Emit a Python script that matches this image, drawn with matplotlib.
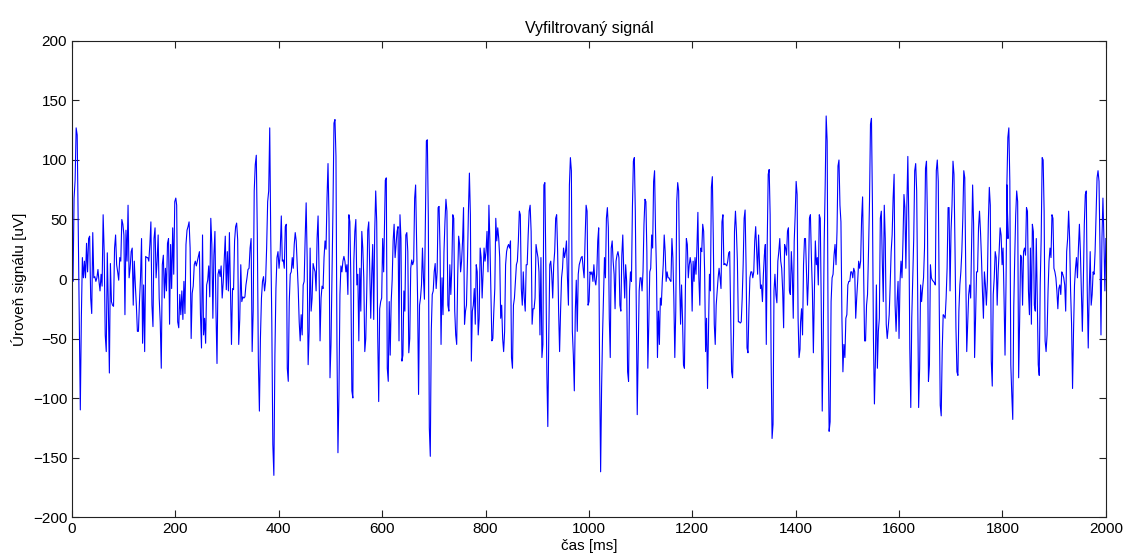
import numpy as np
import matplotlib.pyplot as plt

# vyfiltrovany EEG signal, 10 useku po cca 200 ms (hodnoty v uV)
usek0 = [0, -2, 68, 83, 127, 121, 46, -31, -110, -33, 18, 1, 15, 1, 30, 6, 34, 36, -16, -29,
         39, 1, 2, -2, 1, 8, -2, -10, 4, -6, 54, 23, -47, -61, 22, -22, -79, 13, -19, -22,
         -23, 26, 37, 12, 6, -1, 18, 15, 50, 46, 37, -30, 41, 15, 62, 1, 9, 23, 26, -22,
         15, -5, -22, -44, -44, -19, 1, 34, -54, -5, -61, 19, 18, 18, 15, 29, 48, -22, -40, 34,
         43, 1, 15, 37, -16, -36, -75, 12, 20, -16, 9, -10, 30, 34, -38, 29, -8, 43, 4, 65, 68]
usek1 = [62, -36, -41, -13, -30, -10, -34, -2, -29, 29, 41, 44, 48, 26, -50, -12, -6, 12, 15, 11,
         15, 19, 23, -30, -58, 37, -47, -33, -54, -5, -1, 11, -15, 51, 29, -33, 20, 40, -27, -71,
         4, 8, 2, 11, -16, -3, 16, 36, -9, 23, -10, 39, -6, -55, -8, -9, 32, 44, 47, 33,
         -55, -34, 12, -19, -15, -16, -15, -5, 1, 8, 9, 26, 34, -61, -27, 74, 96, 104, 37, -69,
         -111, -50, -16, -2, 2, -10, -2, 26, 65, 74, 127, 34, -36, -139, -165, -64, -8, 18, 23, 9, 20]
usek2 = [53, 15, 16, 9, 44, 46, -75, -86, -19, 4, 6, 18, 9, 29, 39, 32, 12, -8, -36, -52,
         -30, -47, -5, -2, 34, 64, 18, -72, -44, 26, -27, -16, 13, 9, 6, -10, 34, 53, 6, -52,
         -16, -6, -8, 18, 32, 25, 68, 97, 51, -83, -55, 1, 60, 131, 134, 103, -55, -146, -97, -13,
         11, 6, 15, 19, 15, 6, 12, -13, 54, 48, -2, -94, -100, 15, 40, 50, -5, 4, -52, 9,
         -27, 40, 26, 1, -61, -50, -10, 41, 48, 9, -33, 4, 29, -34, 40, 74, 48, -47, -103, -25,
         -19, -16, 34, 6]
usek3 = [83, 85, -75, -86, -19, -64, -19, -1, 32, 46, 18, 29, 40, 44, -52, 54, 34, -69, -64, -10,
         -27, 37, 39, 23, -62, -50, 9, 16, 12, 15, 68, 79, 29, -16, -97, -22, -16, -5, 26, 1,
         -17, 51, 116, 117, 51, -125, -149, -44, -13, -10, 6, 13, -8, 6, 60, 61, 23, -55, 1, -30,
         23, 48, 67, 57, -22, -27, 12, -13, 9, 54, 51, -27, -47, -55, 1, 36, 29, 6, 15, 32,
         60, -38, -27, -22, 15, 57, 89, 54, -69, -27, -22, -8, -38, 12, 6, -47, -33, 26, 18, -16,
         6, 26, 15, 23, 40, 6]
usek4 = [62, 32, -10, -52, -50, -27, -8, 51, 32, 43, 34, 18, -33, -22, -50, -61, -44, 12, 23, 27,
         29, 26, 32, -66, -75, -22, -16, -2, 12, 15, 32, 57, 54, -8, -22, 6, -16, -27, 12, 12,
         37, 57, 62, 40, -38, -25, -25, -16, 29, 23, 18, 6, -47, 18, -66, -55, 79, 81, 12, -78,
         -124, -47, 12, 15, 4, -16, 12, 23, 51, 54, 23, -27, -61, -27, 1, 9, 26, 18, 23, 32,
         1, -22, 79, 102, 91, -44, -64, -94, -27, -1, -44, 4, 12, 15, 18, 19, 9, 1, 34, 62,
         57, -22, -19, 6, 4, 6]
usek5 = [-2, 12, -1, -5, 4, 32, 43, -83, -162, -92, -47, -13, 18, 1, 51, 60, 43, -33, -66, 26,
         32, 15, 4, -25, 15, 20, 23, 18, -22, -27, 20, 37, 6, -16, 12, -2, -78, -86, -10, 6,
         -2, 60, 99, 102, 57, -22, -114, -61, -10, 1, 1, -10, 6, 46, 67, 65, 23, -75, -38, 6,
         9, 37, 26, 82, 91, 40, 6, -66, -27, -55, -16, -22, -2, 12, 37, 23, -2, 6, 1, 1,
         -1, -2, 34, 18, -16, -66, -27, 65, 81, 74, -2, -38, -5, -33, -72, -75, -8, 34, 29, 1,
         12, 18, 12, -27, 15, -2, 18, 4]
usek6 = [26, 56, 1, -22, 26, 23, 46, 40, 6, -61, -33, -92, -44, 4, -10, 77, 86, 34, -38, -55,
         -22, -10, 1, 9, 1, -8, 48, 54, 12, 13, 12, 11, 15, 22, 23, -25, -78, -83, -47, 40,
         57, 40, 15, -36, -36, -37, -36, -16, 12, 51, 58, 12, -58, -62, -25, 1, 6, 6, 1, 6,
         32, 44, 23, 4, 37, 12, -8, -5, -19, 4, 20, 29, -55, 32, 88, 92, 54, -66, -134, -122,
         -10, 4, -13, -20, 15, 23, 34, 15, 9, -10, -41, 29, 26, 20, 40, 43, -10, -13, 23, 4,
         -33, 32, 54, 82, 71, -33, -66, -59]
usek7 = [-36, -25, -47, 12, 34, 34, 6, -22, 1, 51, 54, 18, -10, -62, -12, 32, 12, 18, -5, 54,
         51, -22, -111, -50, 32, 79, 137, 116, -50, -128, -120, -19, 1, 4, 20, 29, 12, 40, 95, 100,
         62, 48, -33, -78, -55, -66, -33, -30, -5, -2, -2, 6, 6, 1, 9, 6, -33, -16, -2, 15,
         9, 15, 51, 69, 6, -52, -52, -22, -13, 23, 65, 130, 135, 62, -50, -105, -69, -5, -75, -44,
         -33, 51, 57, 15, -19, 62, 34, -38, -50, -41, -30, -5, 23, 37, 68, 88, -22, -44, -19, -2,
         -50, -2, 15, 1, 32, 71]
usek8 = [60, 9, 62, 103, 48, -58, -108, -33, 1, 34, 91, 97, 74, -10, -108, -75, -5, -19, -8, 1,
         26, 93, 99, 48, -86, -72, 12, 1, -1, -2, -3, -5, 91, 100, 82, -22, -106, -115, -61, -30,
         -31, -33, -16, 9, 60, 60, -10, 40, 62, 99, 88, 29, -41, -78, -81, -27, -5, 6, 23, 51,
         91, 85, 6, -61, -36, -13, -5, -16, 29, 79, 46, -66, -33, 6, 6, 43, 57, 40, 18, -10,
         -33, 6, -5, -22, -2, 48, 77, 62, -69, -90, -13, 1, 23, 18, -22, 6, 23, 43, 37, 12,
         26, -16, -64, -5, 79, 34]
usek9 = [79, 119, 127, 82, -72, -97, -118, -24, 18, 54, 74, 65, -83, -36, 20, 18, -22, 23, 26, 20,
         60, 57, -10, -30, 26, -38, 46, 40, -22, -27, 34, -16, -72, -81, -5, 34, 102, 100, 57, -52,
         -61, -47, -10, 15, 26, 18, 54, 51, 9, 6, 1, -10, -25, -8, -5, -13, 6, 4, 1, -5,
         -27, 23, 34, 57, 34, -10, -38, -92, -44, -5, 9, 18, 1, 26, 46, 23, -10, -44, -2, 46,
         71, 74, -10, -58, -10, 23, -22, -13, 6, 4, 23, 54, 85, 91, 82, 26, -47, 34, 68, 34,
         -10, 34]

useky = [usek0, usek1, usek2, usek3, usek4, usek5, usek6, usek7, usek8, usek9]
# zacatek a konec kazdeho useku [ms]
zacatky = [0.0, 202.5, 404.9, 606.1, 806.5, 1007.7, 1208.9, 1409.4, 1611.2, 1808.5]
konce = [200.8, 402.5, 602.9, 804.7, 1005.9, 1207.1, 1408.3, 1609.4, 1810.6, 2000.0]

cas = []
signal = []
for u, t0, t1 in zip(useky, zacatky, konce):
    cas.extend(np.linspace(t0, t1, len(u)))
    signal.extend(u)

plt.rcParams['font.family'] = ['Liberation Sans', 'DejaVu Sans']

fig = plt.figure(figsize=(11.25, 5.57), dpi=100)
ax = fig.add_axes([0.064, 0.0718, 0.919, 0.8546])
ax.plot(cas, signal, color=(0, 0, 1), linewidth=0.8)

ax.set_xlim(0, 2000)
ax.set_ylim(-200, 200)
ax.set_xticks(np.arange(0, 2001, 200))
ax.set_yticks(np.arange(-200, 201, 50))
ax.tick_params(direction='in', top=True, right=True, length=5, labelsize=11,
               colors='#222222', labelcolor='black')
for s in ax.spines.values():
    s.set_color('#222222')
    s.set_linewidth(0.8)

ax.set_title('Vyfiltrovaný signál', fontsize=11.5, pad=6)
ax.set_xlabel('čas [ms]', fontsize=11, labelpad=2)
ax.set_ylabel('Úroveň signálu [uV]', fontsize=11, labelpad=4)

fig.savefig('out.png', dpi=100)
